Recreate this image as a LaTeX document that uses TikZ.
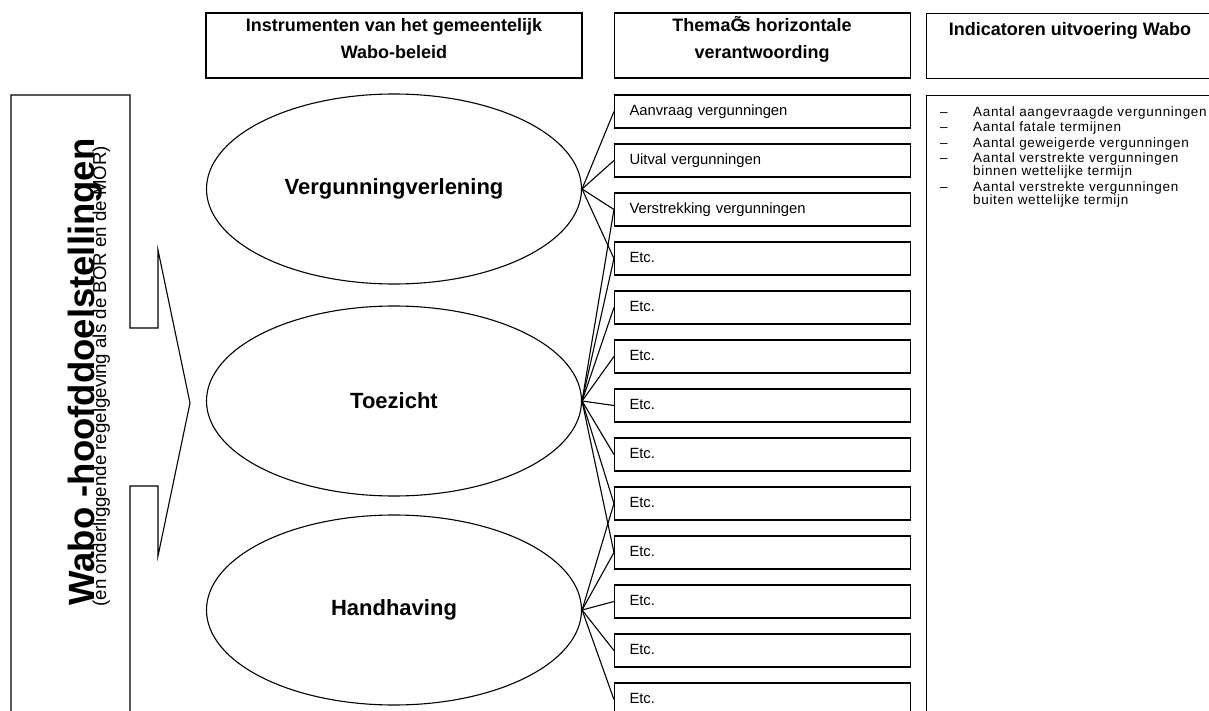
\documentclass[tikz,border=0pt]{standalone}
\usepackage{fontspec}
\setmainfont{Liberation Sans}
\newfontfamily\listfont[LetterSpace=5]{Liberation Sans}
\usetikzlibrary{shapes.geometric}
\begin{document}
\begin{tikzpicture}[x=1pt,y=-1pt,
  frame/.style={draw, line width=1.1pt, rectangle, inner sep=0pt},
  rowbox/.style={frame, inner xsep=15pt, inner ysep=0pt, text width=266pt,
    minimum height=33pt, align=left, text height=11pt, text depth=3pt,
    font=\fontsize{14.8}{17}\selectfont},
  oval/.style={draw, line width=1.1pt, ellipse, minimum width=375pt,
    minimum height=190pt, inner sep=0pt, font=\fontsize{22}{26}\selectfont\bfseries},
  headtext/.style={anchor=base, inner sep=0pt, font=\fontsize{18}{21}\selectfont\bfseries},
  listtext/.style={anchor=base west, inner sep=0pt, font=\listfont\fontsize{13.5}{15}\selectfont},
  link/.style={line width=1.1pt}
]
\useasboundingbox (0,0) rectangle (1209,711);
\clip (0,0) rectangle (1209,711);

% column headers
\node[frame, minimum width=376pt, minimum height=65pt] (h1) at (394,45.5) {};
\node[frame, minimum width=296pt, minimum height=65pt] (h2) at (762.5,45.5) {};
\node[frame, minimum width=300pt, minimum height=65pt, anchor=north west] (h3) at (926,13) {};
\node[headtext] (h1a) at (394,32) {Instrumenten van het gemeentelijk};
\node[headtext] (h1b) at (394,59) {Wabo-beleid};
\node[headtext] (h2a) at (762,32) {Thema\~{G}\kern-4pt s horizontale};
\node[headtext] (h2b) at (762,59) {verantwoording};
\node[headtext] (h3a) at (1070,36) {Indicatoren uitvoering Wabo};

% left block with arrow
\draw[line width=1.1pt] (11,720) -- (11,95) -- (130,95) -- (130,328) -- (158,328)
  -- (158,250) -- (190,403) -- (158,556) -- (158,486) -- (130,486) -- (130,720);
\node[rotate=90, anchor=base, inner sep=0pt, font=\fontsize{36.5}{40}\selectfont\bfseries]
  (goal) at (94,372) {Wabo -hoofddoelstellingen};
\node[rotate=90, anchor=base, inner sep=0pt, font=\fontsize{18.7}{21}\selectfont]
  (goalsub) at (106,376) {(en onderliggende regelgeving als de BOR en de MOR)};

% instruments
\node[oval] (e1) at (394,189) {Vergunningverlening};
\node[oval] (e2) at (394,401) {Toezicht};
\node[oval] (e3) at (394,610) {Handhaving};

% themes
\foreach \i/\t in {0/Aanvraag vergunningen, 1/Uitval vergunningen,
  2/Verstrekking vergunningen, 3/Etc., 4/Etc., 5/Etc., 6/Etc., 7/Etc.,
  8/Etc., 9/Etc., 10/Etc., 11/Etc., 12/Etc.}{
  \node[rowbox] (r\i) at (762.5,{111.5+49*\i}) {\t};
}

% links from instruments to themes
\foreach \j in {0,1,2,3}{\draw[link] (e1.east) -- (r\j.west);}
\foreach \j in {2,3,4,5,6,7,8,9}{\draw[link] (e2.east) -- (r\j.west);}
\foreach \j in {8,9,10,11,12}{\draw[link] (e3.east) -- (r\j.west);}

% indicators
\node[frame, anchor=north west, minimum width=300pt, minimum height=640pt] (ind) at (926,95) {};
\foreach \y/\t/\d in {117/Aantal aangevraagde vergunningen/1,
  132/Aantal fatale termijnen/1,
  148/Aantal geweigerde vergunningen/1,
  163/Aantal verstrekte vergunningen/1,
  176/binnen wettelijke termijn/0,
  192/Aantal verstrekte vergunningen/1,
  205/buiten wettelijke termijn/0}{
  \ifnum\d=1 \node[listtext] (dash\y) at (940,\y) {–};\fi
  \node[listtext] (item\y) at (973,\y) {\t};
}
\end{tikzpicture}
\end{document}
